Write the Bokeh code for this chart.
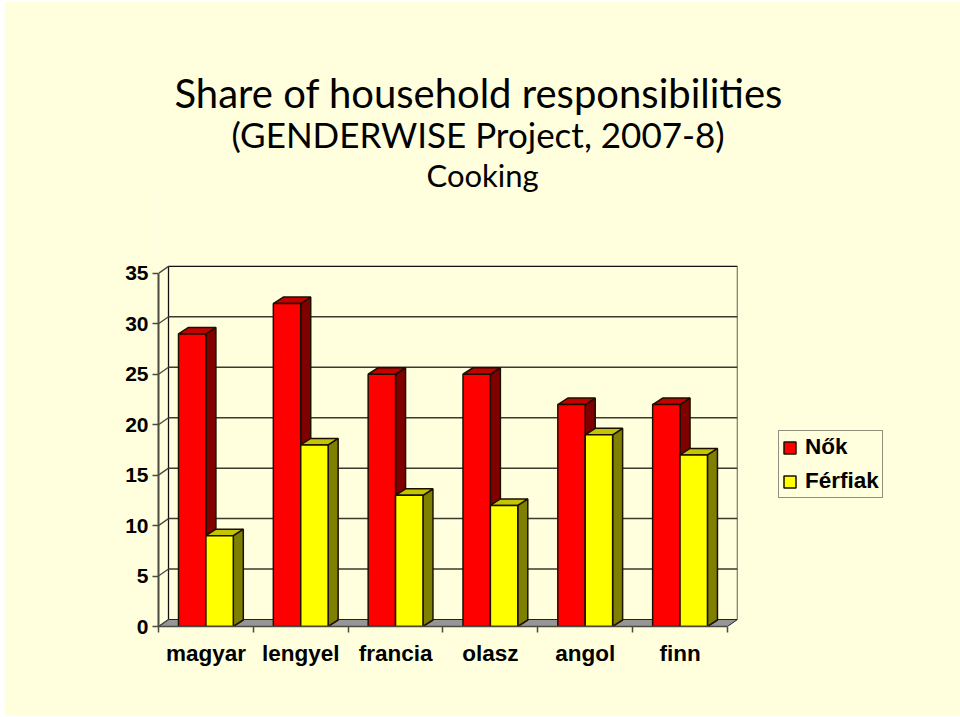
from bokeh.plotting import figure
from bokeh.models import Range1d, FixedTicker, Legend, LegendItem, Title
from bokeh.embed import file_html
from bokeh.resources import INLINE

categories = ["magyar", "lengyel", "francia", "olasz", "angol", "finn"]
nok = [29, 32, 25, 25, 22, 22]
ferfiak = [9, 18, 13, 12, 19, 17]
y_ticks = [0, 5, 10, 15, 20, 25, 30, 35]
title_lines = ["Share of household responsibilities",
               "(GENDERWISE Project, 2007-8)", "Cooking"]

BG = "#FFFFDD"
OX, OY = 4, 1              # where the cream panel starts in the window
FL, FR, FT, FB = 158, 737, 196, 626   # frame edges in window pixels (top leaves room for the titles)
W, H = 951, 715
PXU_X = 94.83              # pixels per category
PXU_Y = 10.09              # pixels per value unit
DX, DY = 10 / PXU_X, 7 / PXU_Y   # depth of the back wall
n = len(categories)

p = figure(width=W, height=H, output_backend="svg", toolbar_location=None,
           x_range=Range1d(0, (FR - FL) / PXU_X), y_range=Range1d(0, (FB - FT) / PXU_Y),
           min_border_left=FL - OX, min_border_right=OX + W - FR,
           min_border_top=FT - OY, min_border_bottom=OY + H - FB,
           frame_width=FR - FL, frame_height=FB - FT,
           background_fill_color=BG, border_fill_color=BG, margin=(OY, 5, 0, OX))
p.outline_line_color = None
p.grid.visible = False

AX = "#4A4A40"
p.yaxis.ticker = FixedTicker(ticks=y_ticks)
p.yaxis.bounds = (0, 35)
p.yaxis.axis_line_color = AX
p.yaxis.axis_line_width = 2
p.yaxis.major_tick_line_color = AX
p.yaxis.major_tick_line_width = 1.5
p.yaxis.major_tick_in = 0
p.yaxis.major_tick_out = 6
p.yaxis.minor_tick_line_color = None
p.yaxis.major_label_text_font = "Liberation Sans"
p.yaxis.major_label_text_font_size = "21px"
p.yaxis.major_label_text_font_style = "bold"
p.yaxis.major_label_text_color = "#000000"
p.yaxis.major_label_standoff = 4

p.xaxis.ticker = FixedTicker(ticks=[i + 0.5 for i in range(n)], minor_ticks=list(range(n + 1)))
p.xaxis.bounds = (0, n)
p.xaxis.major_label_overrides = {i + 0.5: c for i, c in enumerate(categories)}
p.xaxis.axis_line_color = AX
p.xaxis.axis_line_width = 1.5
p.xaxis.major_tick_line_color = None
p.xaxis.major_tick_in = 0
p.xaxis.major_tick_out = 6
p.xaxis.minor_tick_line_color = AX
p.xaxis.minor_tick_line_width = 1.5
p.xaxis.minor_tick_in = 0
p.xaxis.minor_tick_out = 6
p.xaxis.major_label_text_font = "Liberation Sans"
p.xaxis.major_label_text_font_size = "22.5px"
p.xaxis.major_label_text_font_style = "bold"
p.xaxis.major_label_text_color = "#000000"
p.xaxis.major_label_standoff = 8

# floor
p.patch([0, n, n + DX, DX], [0, 0, DY, DY], fill_color="#969696", line_color="#222222", line_width=1)
# back wall
p.line([DX, DX, n + DX, n + DX], [DY, 35 + DY, 35 + DY, DY], line_color="#111111", line_width=1.3)
for t in y_ticks[1:-1]:
    p.line([DX, n + DX], [t + DY, t + DY], line_color="#3A3A30", line_width=1.5)
for t in y_ticks:
    p.line([0, DX], [t, t + DY], line_color=AX, line_width=1.3)

BO = 20 / PXU_X
BW = 27.4 / PXU_X
BDX, BDY = 10 / PXU_X, 6.5 / PXU_Y
OUT = "#1A1000"


def bar(left, v, front, top, side):
    r = left + BW
    p.patch([r, r + BDX, r + BDX, r], [0, BDY, v + BDY, v], fill_color=side, line_color=OUT, line_width=1.5)
    p.patch([left, r, r + BDX, left + BDX], [v, v, v + BDY, v + BDY], fill_color=top, line_color=OUT, line_width=1.5)
    return p.quad(left=left, right=r, bottom=0, top=v, fill_color=front, line_color=OUT, line_width=1.5)


red_r = yel_r = None
for i in range(n):
    red_r = bar(i + BO, nok[i], "#FF0000", "#C40000", "#800000")
    yel_r = bar(i + BO + BW, ferfiak[i], "#FFFF00", "#C4C400", "#808000")

# titles: stacked above the frame, left-aligned at measured offsets
for t, st, fs, off in zip(reversed(title_lines), [5, -6, -6], [31, 35, 40], [268, 73, 16]):
    p.add_layout(Title(text=t, align="left", text_font="Lato", text_font_size=f"{fs}px", text_font_style="normal",
                       text_color="#000000", standoff=st, offset=off), "above")

# legend
legend = Legend(items=[LegendItem(label="Nők", renderers=[red_r]), LegendItem(label="Férfiak", renderers=[yel_r])],
                location=(41, FB - 498), orientation="vertical",
                background_fill_color=BG, background_fill_alpha=1, border_line_color="#222222", border_line_width=1.2,
                label_text_font="Liberation Sans", label_text_font_size="22.5px", label_text_font_style="bold",
                label_text_color="#000000", glyph_width=15, glyph_height=15, label_standoff=8,
                padding=3, spacing=8, margin=0)
p.add_layout(legend, "right")

open("out.html", "w").write(file_html(p, INLINE))
